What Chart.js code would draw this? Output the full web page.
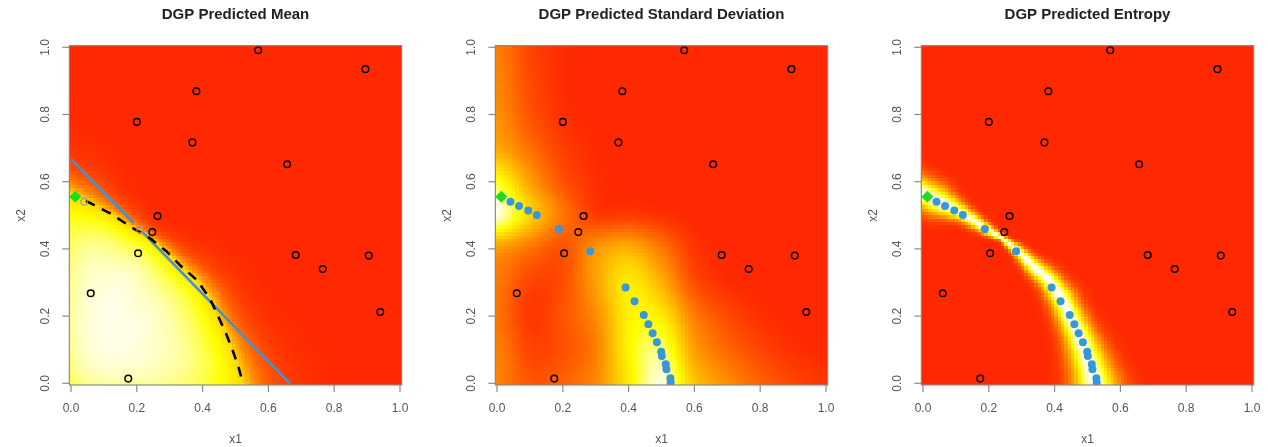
<!DOCTYPE html>
<html>
<head>
<meta charset="utf-8">
<script src="https://cdn.jsdelivr.net/npm/chart.js@4.4.1/dist/chart.umd.min.js"></script>
<style>
  html, body { margin: 0; padding: 0; background: #fff; overflow: hidden; }
  canvas { position: absolute; top: 0; }
</style>
</head>
<body>
<canvas id="meanChart" width="422" height="447" style="left:0px"></canvas>
<canvas id="sdChart" width="422" height="447" style="left:426px"></canvas>
<canvas id="entropyChart" width="416" height="447" style="left:852px"></canvas>
<script>
// Design points (open circles), the same in every panel
const designX = [0.569, 0.895, 0.381, 0.200, 0.369, 0.657, 0.263, 0.247, 0.204, 0.683, 0.905, 0.765, 0.940, 0.060, 0.174];
const designY = [0.991, 0.935, 0.869, 0.778, 0.717, 0.652, 0.498, 0.450, 0.387, 0.382, 0.380, 0.340, 0.212, 0.268, 0.014];

// Two faint circles on the boundary
const fadedX = [0.040, 0.210];
const fadedY = [0.540, 0.458];

// Sequentially selected points (blue)
const seqX = [0.041, 0.067, 0.095, 0.121, 0.188, 0.283, 0.391, 0.418, 0.446, 0.460, 0.473, 0.486, 0.499, 0.501, 0.513, 0.515, 0.527, 0.528];
const seqY = [0.540, 0.528, 0.514, 0.501, 0.459, 0.393, 0.285, 0.244, 0.203, 0.176, 0.149, 0.122, 0.094, 0.081, 0.057, 0.042, 0.015, 0.002];

// Starting point (green diamond)
const startX = [0.013];
const startY = [0.555];

// Linear boundary (blue line) in the mean panel
const lineX = [0.000, 0.190, 0.200, 0.215, 0.665];
const lineY = [0.667, 0.477, null, 0.452, 0.000];

// Predicted contour (dashed) and the width of the uncertain band along it
const contourX = [0.045, 0.119, 0.189, 0.240, 0.291, 0.336, 0.382, 0.422, 0.448, 0.473, 0.493, 0.510, 0.522];
const contourY = [0.543, 0.506, 0.461, 0.432, 0.392, 0.347, 0.308, 0.253, 0.198, 0.144, 0.094, 0.045, 0.000];
const bandWidth = [0.045, 0.025, 0.018, 0.009, 0.018, 0.026, 0.032, 0.040, 0.043, 0.048, 0.055, 0.062, 0.070];

// Standard deviation levels on a 0.1 grid, rows from x2 = 1.0 down to x2 = 0.0
const sdGrid = [
  [0.30, 0.10, 0.02, 0.00, 0.00, 0.00, 0.00, 0.00, 0.00, 0.00, 0.00],
  [0.32, 0.12, 0.02, 0.00, 0.00, 0.00, 0.00, 0.00, 0.00, 0.00, 0.00],
  [0.36, 0.15, 0.03, 0.00, 0.00, 0.00, 0.00, 0.00, 0.00, 0.00, 0.00],
  [0.45, 0.25, 0.08, 0.01, 0.00, 0.00, 0.00, 0.00, 0.00, 0.00, 0.00],
  [0.78, 0.42, 0.15, 0.03, 0.00, 0.00, 0.00, 0.00, 0.00, 0.00, 0.00],
  [0.97, 0.60, 0.28, 0.07, 0.07, 0.03, 0.00, 0.00, 0.00, 0.00, 0.00],
  [0.40, 0.26, 0.14, 0.38, 0.48, 0.28, 0.05, 0.00, 0.00, 0.00, 0.00],
  [0.28, 0.10, 0.13, 0.42, 0.68, 0.48, 0.13, 0.02, 0.00, 0.00, 0.00],
  [0.26, 0.06, 0.15, 0.35, 0.70, 0.68, 0.30, 0.12, 0.03, 0.00, 0.00],
  [0.30, 0.10, 0.14, 0.30, 0.72, 0.86, 0.42, 0.22, 0.10, 0.03, 0.00],
  [0.32, 0.16, 0.20, 0.34, 0.68, 0.97, 0.55, 0.35, 0.20, 0.10, 0.05]
];

const tickValues = [0, 0.2, 0.4, 0.6, 0.8, 1.0];
const tickLabels = ["0.0", "0.2", "0.4", "0.6", "0.8", "1.0"];

const GRID_N = 100;          // image resolution per axis
const HALF = 0.5 / (GRID_N - 1);
const RED_G = 40;            // green channel of the lowest heat colour

function heatColour(v) {
  v = Math.min(1, Math.max(0, v));
  if (v < 0.75) {
    const g = Math.round(RED_G + (255 - RED_G) * v / 0.75);
    return "rgb(255," + g + ",0)";
  }
  const b = Math.round(250 * (v - 0.75) / 0.25);
  return "rgb(255,255," + b + ")";
}

// contour with its end segments carried past the frame
function buildPath() {
  const pts = contourX.map((x, i) => ({ x: x, y: contourY[i], w: bandWidth[i] }));
  const extend = (a, b) => {
    const d = Math.hypot(a.x - b.x, a.y - b.y);
    return { x: a.x + (a.x - b.x) / d * 0.2, y: a.y + (a.y - b.y) / d * 0.2, w: a.w };
  };
  const n = pts.length;
  const head = extend(pts[0], pts[1]);
  const tail = extend(pts[n - 1], pts[n - 2]);
  return [head].concat(pts, [tail]);
}
const path = buildPath();

function nearest(px, py) {
  let best = { d: Infinity };
  for (let i = 0; i < path.length - 1; i++) {
    const a = path[i], b = path[i + 1];
    const dx = b.x - a.x, dy = b.y - a.y;
    let t = ((px - a.x) * dx + (py - a.y) * dy) / (dx * dx + dy * dy);
    t = Math.min(1, Math.max(0, t));
    const qx = a.x + t * dx, qy = a.y + t * dy;
    const d = Math.hypot(px - qx, py - qy);
    if (d < best.d) {
      best = { d: d, w: a.w + t * (b.w - a.w), cross: dx * (py - a.y) - dy * (px - a.x) };
    }
  }
  best.s = best.cross < 0 ? best.d : -best.d; // positive on the origin side
  return best;
}

function meanLevel(x, y) {
  const n = nearest(x, y);
  if (n.s >= 0) {
    const edge = 1 - 0.25 * Math.exp(-x / 0.05) - 0.2 * Math.exp(-y / 0.05);
    return 0.62 + 0.38 * (1 - Math.exp(-n.s / (n.w + 0.05))) * edge;
  }
  return 0.62 * Math.exp(n.s / (0.75 * n.w + 0.01));
}

function entropyLevel(x, y) {
  const n = nearest(x, y);
  return Math.exp(-Math.pow(n.d / n.w, 2));
}

function cubic(p0, p1, p2, p3, t) {
  return p1 + 0.5 * t * (p2 - p0 + t * (2 * p0 - 5 * p1 + 4 * p2 - p3 + t * (3 * (p1 - p2) + p3 - p0)));
}

function sdLevel(x, y) {
  const gx = x * 10, gy = (1 - y) * 10;
  const i = Math.min(9, Math.floor(gx)), j = Math.min(9, Math.floor(gy));
  const fx = gx - i, fy = gy - j;
  const at = (r, c) => sdGrid[Math.min(10, Math.max(0, r))][Math.min(10, Math.max(0, c))];
  const rows = [];
  for (let r = j - 1; r <= j + 2; r++) {
    rows.push(cubic(at(r, i - 1), at(r, i), at(r, i + 1), at(r, i + 2), fx));
  }
  return cubic(rows[0], rows[1], rows[2], rows[3], fy);
}

// draws the image cells through the chart's scales
const heatmapPlugin = {
  id: "heatmap",
  beforeDatasetsDraw(chart, args, opts) {
    const { ctx, scales: { x, y } } = chart;
    ctx.save();
    for (let i = 0; i < GRID_N; i++) {
      const cx = i / (GRID_N - 1);
      const l = Math.round(x.getPixelForValue(cx - HALF));
      const r = Math.round(x.getPixelForValue(cx + HALF));
      for (let j = 0; j < GRID_N; j++) {
        const cy = j / (GRID_N - 1);
        const t = Math.round(y.getPixelForValue(cy + HALF));
        const b = Math.round(y.getPixelForValue(cy - HALF));
        ctx.fillStyle = heatColour(opts.level(cx, cy));
        ctx.fillRect(l, t, r - l, b - t);
      }
    }
    ctx.restore();
  }
};

// R style frame, ticks, axis labels and title
const framePlugin = {
  id: "frame",
  afterDraw(chart, args, opts) {
    const { ctx, chartArea: a, scales: { x, y } } = chart;
    ctx.save();
    ctx.strokeStyle = "#8a8a8a";
    ctx.lineWidth = 1.2;
    ctx.strokeRect(a.left, a.top, a.right - a.left, a.bottom - a.top);
    ctx.fillStyle = "#555";
    ctx.font = '12px "Liberation Sans", Arial, sans-serif';
    ctx.textAlign = "center";
    ctx.textBaseline = "middle";
    tickValues.forEach((v, k) => {
      const px = x.getPixelForValue(v);
      ctx.beginPath();
      ctx.moveTo(px, a.bottom);
      ctx.lineTo(px, a.bottom + 7);
      ctx.stroke();
      ctx.fillText(tickLabels[k], px, a.bottom + 24);
      const py = y.getPixelForValue(v);
      ctx.beginPath();
      ctx.moveTo(a.left - 7, py);
      ctx.lineTo(a.left, py);
      ctx.stroke();
      ctx.save();
      ctx.translate(a.left - 24, py);
      ctx.rotate(-Math.PI / 2);
      ctx.fillText(tickLabels[k], 0, 0);
      ctx.restore();
    });
    const midX = (a.left + a.right) / 2, midY = (a.top + a.bottom) / 2;
    ctx.fillText("x1", midX, a.bottom + 55);
    ctx.save();
    ctx.translate(a.left - 48, midY);
    ctx.rotate(-Math.PI / 2);
    ctx.fillText("x2", 0, 0);
    ctx.restore();
    ctx.fillStyle = "#222";
    ctx.font = 'bold 15px "Liberation Sans", Arial, sans-serif';
    ctx.fillText(opts.title, midX, 15);
    ctx.restore();
  }
};

const toXY = (xs, ys) => xs.map((v, i) => ({ x: v, y: ys[i] }));

function circleSet(xs, ys, colour, order) {
  return {
    data: toXY(xs, ys), showLine: false, order: order,
    pointStyle: "circle", pointRadius: 3.3, pointBorderWidth: 1.5,
    pointBorderColor: colour, pointBackgroundColor: "rgba(0,0,0,0)"
  };
}

function seqSet(order) {
  return {
    data: toXY(seqX, seqY), showLine: false, order: order,
    pointStyle: "circle", pointRadius: 4, pointBorderWidth: 0,
    pointBackgroundColor: "#3598db"
  };
}

function startSet(order) {
  return {
    data: toXY(startX, startY), showLine: false, order: order,
    pointStyle: "rectRot", pointRadius: 6, pointBorderWidth: 0,
    pointBackgroundColor: "#1fdc1f"
  };
}

function makeChart(id, title, level, datasets) {
  const canvas = document.getElementById(id);
  const W = canvas.width;
  return new Chart(canvas, {
    type: "scatter",
    data: { datasets: datasets },
    options: {
      responsive: false,
      animation: false,
      events: [],
      layout: { padding: { left: 69.35, right: W - 401.65, top: 45.6, bottom: 62 } },
      scales: {
        x: { type: "linear", min: -HALF, max: 1 + HALF, display: false },
        y: { type: "linear", min: -HALF, max: 1 + HALF, display: false }
      },
      plugins: {
        legend: { display: false },
        tooltip: { enabled: false },
        heatmap: { level: level },
        frame: { title: title }
      }
    },
    plugins: [heatmapPlugin, framePlugin]
  });
}

makeChart("meanChart", "DGP Predicted Mean", meanLevel, [
  {
    data: toXY(lineX, lineY), showLine: true, order: 6, spanGaps: false,
    borderColor: "#4a8fd0", borderWidth: 2.6, pointRadius: 0
  },
  {
    data: toXY(contourX, contourY), showLine: true, order: 5,
    borderColor: "#000", borderWidth: 2.6, borderDash: [10, 8], pointRadius: 0
  },
  circleSet(fadedX, fadedY, "rgba(150,150,150,0.75)", 4),
  circleSet(designX, designY, "#000", 3),
  startSet(1)
]);

makeChart("sdChart", "DGP Predicted Standard Deviation", sdLevel, [
  circleSet(designX, designY, "#000", 4),
  seqSet(2),
  startSet(1)
]);

makeChart("entropyChart", "DGP Predicted Entropy", entropyLevel, [
  circleSet(designX, designY, "#000", 4),
  seqSet(2),
  startSet(1)
]);
</script>
</body>
</html>
